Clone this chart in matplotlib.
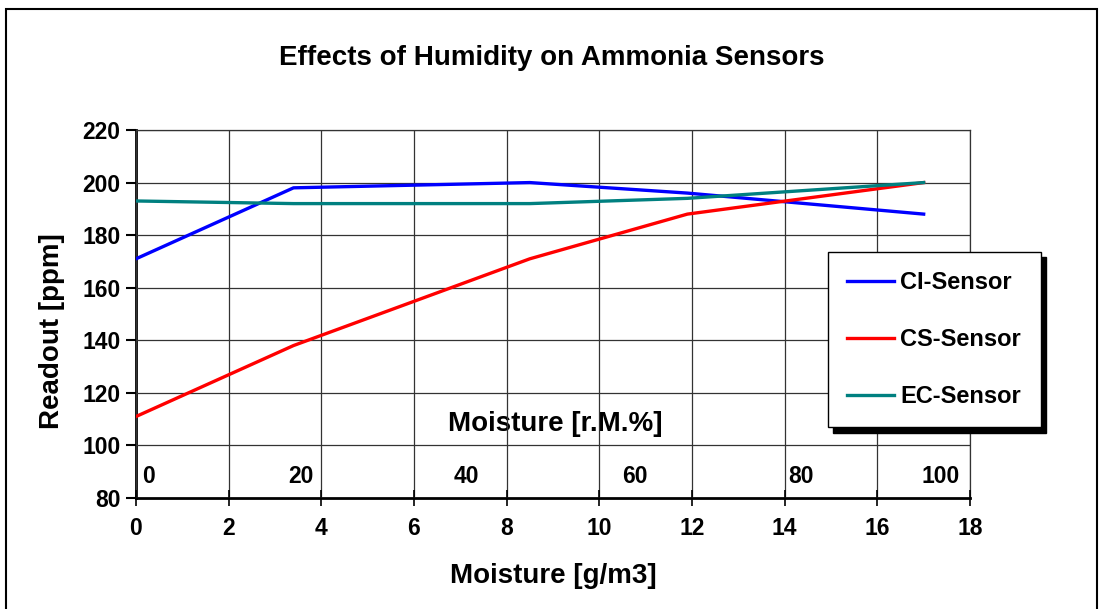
import numpy as np
import matplotlib.pyplot as plt
from matplotlib.patches import Rectangle

# data
moisture = [0, 3.4, 8.5, 11.9, 17]
ci_sensor = [171, 198, 200, 196, 188]
cs_sensor = [111, 138, 171, 188, 200]
ec_sensor = [193, 192, 192, 194, 200]

rm_labels = ['0', '20', '40', '60', '80', '100']
rm_pos = [0.26, 3.56, 7.13, 10.76, 14.36, 17.37]

xticks = np.arange(0, 19, 2)
yticks = np.arange(80, 221, 20)

plt.rcParams['font.family'] = ['Liberation Sans', 'DejaVu Sans']
plt.rcParams['font.weight'] = 'bold'

fig = plt.figure(figsize=(11.04, 6.09), dpi=100)
ax = fig.add_axes([136/1104, 1 - 498/609, 834/1104, 368/609])

# outer chart frame
fig.patches.append(Rectangle((6/1104, -0.02), 1091/1104, 1.02 - 9/609,
                             transform=fig.transFigure, fill=False,
                             edgecolor='black', linewidth=1.5))

ax.plot(moisture, ci_sensor, color='#0000ff', lw=2.4, label='CI-Sensor', zorder=4)
ax.plot(moisture, cs_sensor, color='#ff0000', lw=2.4, label='CS-Sensor', zorder=4)
ax.plot(moisture, ec_sensor, color='#008080', lw=2.4, label='EC-Sensor', zorder=4)

ax.set_xlim(0, 18)
ax.set_ylim(80, 220)
ax.set_xticks(xticks)
ax.set_yticks(yticks)
ax.grid(True, color='#333333', linewidth=0.9)
ax.set_axisbelow(False)

for s in ['top', 'right']:
    ax.spines[s].set_linewidth(0.9)
    ax.spines[s].set_color('#333333')
for s in ['left', 'bottom']:
    ax.spines[s].set_linewidth(2)

ax.tick_params(axis='y', direction='out', length=7, width=1.5, labelsize=16.5, pad=4)
ax.tick_params(axis='x', direction='inout', length=12, width=1.2, labelsize=16.5, pad=8)
for lbl in ax.get_xticklabels() + ax.get_yticklabels():
    lbl.set_fontweight('bold')

for lab, xp in zip(rm_labels, rm_pos):
    ax.text(xp, 88, lab, ha='center', va='center', fontsize=16.5, fontweight='bold', zorder=1)
ax.text(9.05, 108, 'Moisture [r.M.%]', ha='center', va='center', fontsize=20,
        fontweight='bold', zorder=1)

ax.set_xlabel('Moisture [g/m3]', fontsize=20, fontweight='bold', labelpad=16)
ax.set_ylabel('Readout [ppm]', fontsize=20, fontweight='bold', va='center')
ax.yaxis.set_label_coords(-0.1007, 0.454)
fig.text(0.5, 1 - 58/609, 'Effects of Humidity on Ammonia Sensors', ha='center', va='center',
         fontsize=20, fontweight='bold')

# legend with a hard shadow box
lx0, ly0, lw, lh = 828/1104, 1 - 428/609, 213/1104, 176/609
shadow = Rectangle((lx0 + 5/1104, ly0 - 5/609), lw, lh, transform=fig.transFigure,
                   facecolor='black', edgecolor='black', zorder=9, clip_on=False)
ax.add_artist(shadow)
leg = ax.legend(loc='upper left', bbox_to_anchor=(lx0, ly0 + lh, lw, 0),
                bbox_transform=fig.transFigure, mode='expand', frameon=True,
                fancybox=False, framealpha=1, edgecolor='black', fontsize=17,
                labelspacing=1.45, handlelength=2.0, handletextpad=0.25,
                borderpad=0.8, borderaxespad=0)
leg.get_frame().set_linewidth(1)
leg.set_zorder(10)
for t in leg.get_texts():
    t.set_fontweight('bold')

fig.savefig('out.png', dpi=100)
